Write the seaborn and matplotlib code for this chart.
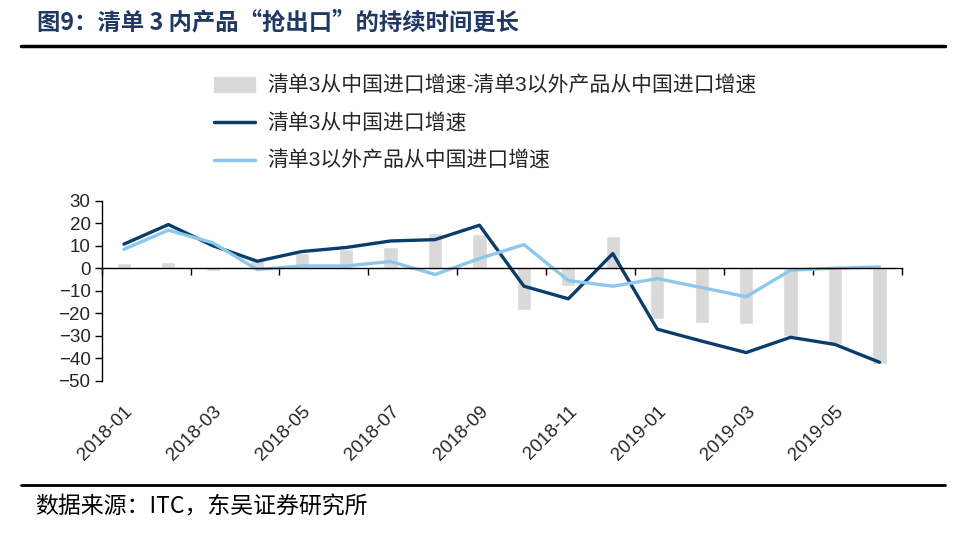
import numpy as np
import pandas as pd
import matplotlib
matplotlib.use('Agg')
import matplotlib.pyplot as plt
import seaborn as sns
from matplotlib.patches import Patch
from matplotlib.lines import Line2D

sns.set_theme(style='white')
plt.rcParams['font.family'] = ['Liberation Sans', 'Noto Sans CJK SC', 'DejaVu Sans']

# 数据
months = ['2018-01', '2018-02', '2018-03', '2018-04', '2018-05', '2018-06',
          '2018-07', '2018-08', '2018-09', '2018-10', '2018-11', '2018-12',
          '2019-01', '2019-02', '2019-03', '2019-04', '2019-05', '2019-06']
list3_growth = [10.7, 19.4, 10.0, 3.1, 7.4, 9.2, 12.1, 12.7, 19.1, -8.0, -13.6, 6.5,
                -27.1, -32.4, -37.5, -30.7, -33.9, -41.8]
other_growth = [8.4, 16.9, 11.3, -0.6, 1.0, 1.0, 3.0, -2.8, 4.3, 10.5, -5.5, -8.0,
                -4.6, -8.6, -12.7, -0.9, 0.0, 0.6]
diff_growth = [2.4, 2.8, -1.2, 3.7, 6.8, 8.4, 9.5, 15.7, 15.0, -18.7, -8.0, 14.4,
               -22.5, -24.3, -24.9, -30.1, -33.5, -42.4]

label_diff = '清单3从中国进口增速-清单3以外产品从中国进口增速'
label_list3 = '清单3从中国进口增速'
label_other = '清单3以外产品从中国进口增速'

df = pd.DataFrame({'month': months, 'diff': diff_growth,
                   'list3': list3_growth, 'other': other_growth})

c_bar = '#d9d9d9'
c_dark = '#0a3d6b'
c_light = '#8cc8ec'

fig = plt.figure(figsize=(9.71, 5.33), dpi=100)
ax = fig.add_axes([101.7 / 971, 1 - 380.7 / 533, 800 / 971, 180 / 533])

sns.barplot(data=df, x='month', y='diff', color=c_bar, width=0.32,
            saturation=1, ax=ax)
sns.lineplot(data=df, x='month', y='list3', color=c_dark, linewidth=2.4,
             sort=False, ax=ax)
sns.lineplot(data=df, x='month', y='other', color=c_light, linewidth=2.4,
             sort=False, ax=ax)

ax.set_xlim(-0.5, len(months) - 0.5)
ax.set_ylim(-50, 30)
ax.set_xlabel('')
ax.set_ylabel('')
ax.set_yticks(np.arange(-50, 31, 10))
ax.tick_params(axis='y', labelsize=13.5, length=5, width=1, color='black',
               direction='out', left=True, pad=3)

# 零线作为x轴，刻度在分界处
for s in ['top', 'right']:
    ax.spines[s].set_visible(False)
ax.spines['left'].set_color('black')
ax.spines['left'].set_linewidth(1)
ax.spines['bottom'].set_position(('data', 0))
ax.spines['bottom'].set_color('black')
ax.spines['bottom'].set_linewidth(1)
ax.set_xticks(np.arange(-0.5, len(months), 2))
ax.set_xticklabels([])
ax.tick_params(axis='x', length=5, width=1, color='black', direction='out',
               bottom=True)

# 日期标签放在坐标轴底部
sec = ax.secondary_xaxis('bottom')
sec.set_xticks(range(0, len(months), 2))
sec.set_xticklabels(months[::2], rotation=45, ha='right',
                    rotation_mode='anchor', fontsize=13.5)
sec.tick_params(length=0, pad=16)
sec.spines['bottom'].set_visible(False)

handles = [Patch(color=c_bar),
           Line2D([0], [0], color=c_dark, linewidth=2.5),
           Line2D([0], [0], color=c_light, linewidth=2.5)]
fig.legend(handles, [label_diff, label_list3, label_other], loc='upper left',
           bbox_to_anchor=(214 / 971, 1 - 76 / 533), frameon=False, fontsize=15,
           handlelength=1.95, labelspacing=0.83, handletextpad=0.6,
           borderpad=0, borderaxespad=0)

# 标题、分隔线、来源
fig.text(37 / 971, 1 - 23 / 533, '图9：清单 3 内产品“抢出口”的持续时间更长',
         fontsize=16.8, fontweight='bold', color='#1f3864', va='center', ha='left',
         family=['Noto Sans CJK SC', 'DejaVu Sans'])
fig.add_artist(Line2D([21 / 971, 945 / 971], [1 - 46 / 533, 1 - 46 / 533],
                      color='black', linewidth=2.5, transform=fig.transFigure))
fig.add_artist(Line2D([21 / 971, 945 / 971], [1 - 485 / 533, 1 - 485 / 533],
                      color='black', linewidth=2.0, transform=fig.transFigure))
fig.text(35 / 971, 1 - 507 / 533, '数据来源：ITC，东吴证券研究所', fontsize=16.5,
         color='black', va='center', ha='left',
         family=['Noto Sans CJK SC', 'DejaVu Sans'])

fig.savefig('out.png', dpi=100)
plt.close(fig)
